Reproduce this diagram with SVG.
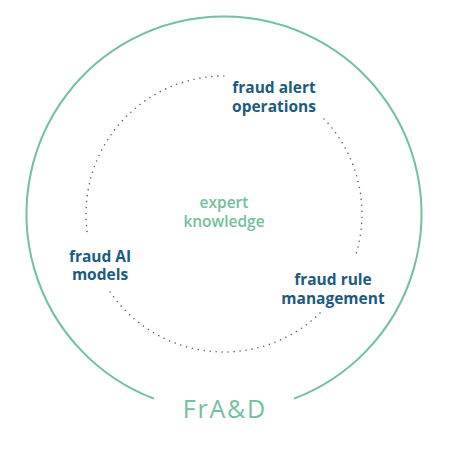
<svg xmlns="http://www.w3.org/2000/svg" width="450" height="450" viewBox="0 0 450 450">
<style>
.lbl{font-family:"Open Sans","Noto Sans",sans-serif;font-weight:700;font-size:15.5px;fill:#1c5b7f;text-anchor:middle}
.core{font-family:"Open Sans","Noto Sans",sans-serif;font-weight:600;font-size:15.5px;fill:#72c09c;text-anchor:middle}
.title{font-family:"Open Sans","Noto Sans",sans-serif;font-weight:400;font-size:25px;letter-spacing:1.8px;fill:#72c09c;text-anchor:middle}
.dot{fill:none;stroke:#4d6477;stroke-width:1.6;stroke-linecap:round;stroke-dasharray:0 6}
.outer{fill:none;stroke:#72c09c;stroke-width:2}
</style>
<rect width="450" height="450" fill="#ffffff"/>
<g id="connectors">
<path class="outer" d="M153.9,398.6 A197.5,197.5 0 1 1 294.1,398.6"/>
<path class="dot" d="M324.1,119 A138,138 0 0 1 355.3,256.4"/>
<path class="dot" d="M320,313.1 A138,138 0 0 1 108.5,289.6"/>
<path class="dot" d="M87.1,231.5 A138,138 0 0 1 224,76"/>
</g>
<g id="node-alert"><text class="lbl" x="274" y="93">fraud alert</text><text class="lbl" x="274" y="112">operations</text></g>
<g id="node-core"><text class="core" x="224" y="208">expert</text><text class="core" x="224" y="226.5">knowledge</text></g>
<g id="node-ai"><text class="lbl" x="100" y="261.5">fraud AI</text><text class="lbl" x="100" y="280">models</text></g>
<g id="node-rule"><text class="lbl" x="333" y="285">fraud rule</text><text class="lbl" x="333" y="303.5">management</text></g>
<g id="node-title"><text class="title" x="224.9" y="417.5">FrA&amp;D</text></g>
</svg>
